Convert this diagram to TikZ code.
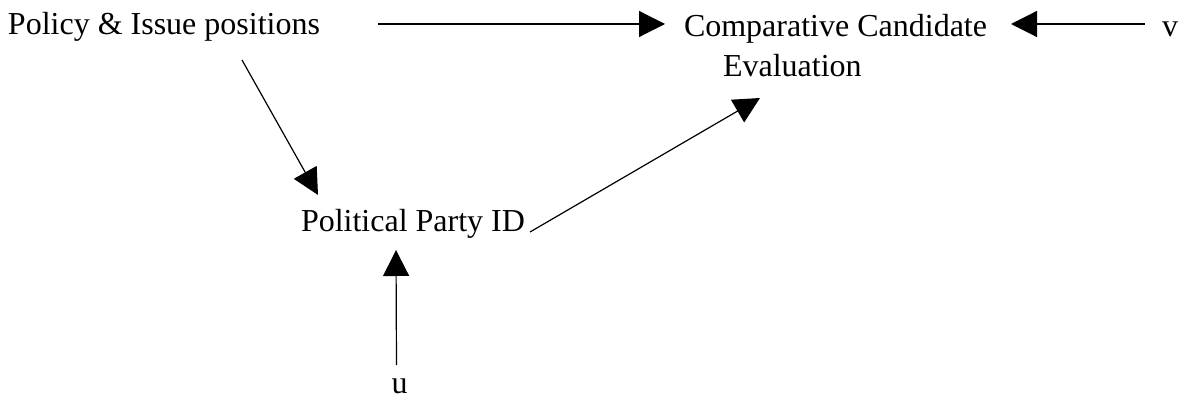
\documentclass[tikz,border=0pt]{standalone}
\usepackage{fontspec}
\setmainfont{Liberation Serif}
\usetikzlibrary{arrows.meta}
\begin{document}
\begin{tikzpicture}[x=1pt,y=-1pt,
  lbl/.style={inner sep=0pt,outer sep=0pt,font=\fontsize{32}{40}\selectfont},
  arr/.style={line width=1.2pt,-{Triangle[length=26pt,width=26pt]}}]
\useasboundingbox (0,0) rectangle (1179,398);
\node[lbl,anchor=base west] (pol) at (8,35) {Policy \& Issue positions};
\node[lbl,anchor=base west,align=left] (cce) at (684,76.5) {Comparative Candidate\\\hspace*{39pt}Evaluation};
\node[lbl,anchor=base west] (v) at (1162,36.5) {v};
\node[lbl,anchor=base west] (pp) at (301,232) {Political Party ID};
\node[lbl,anchor=base] (u) at (399.5,393) {u};
\draw[arr] ([shift={(370,-11)}]pol.base west) -- ([shift={(-19,-52.5)}]cce.base west);
\draw[arr] ([shift={(-17,-12.5)}]v.base west) -- ([shift={(327,-52.5)}]cce.base west);
\draw[arr] ([shift={(234,25)}]pol.base west) -- ([shift={(17,-37)}]pp.base west);
\draw[arr] ([shift={(229,0)}]pp.base west) -- ([shift={(76,21.5)}]cce.base west);
\draw[arr] ([shift={(-3,-28)}]u.base) -- ([shift={(95,18)}]pp.base west);
\end{tikzpicture}
\end{document}
